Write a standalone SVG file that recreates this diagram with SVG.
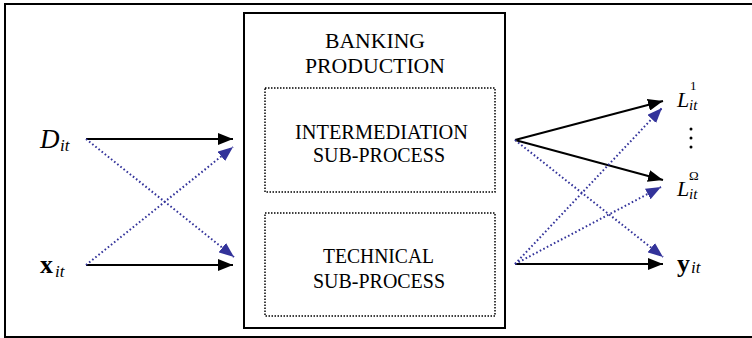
<svg xmlns="http://www.w3.org/2000/svg" width="752" height="338" viewBox="0 0 752 338">
<defs>
<style>
.t{font-family:"Liberation Serif","Times New Roman",serif;fill:#000}
.lbl{font-size:22px}
.solid{stroke:#000;stroke-width:2;fill:none}
.dot{stroke:#33339a;stroke-width:2;fill:none;stroke-dasharray:1.6 2.4}
.dbox{stroke:#000;stroke-width:1.5;fill:none;stroke-dasharray:1.5 1.5}
</style>
<marker id="ab" markerUnits="userSpaceOnUse" markerWidth="16" markerHeight="12" refX="15" refY="6" orient="auto">
<path d="M0,0 L15,6 L0,12 z" fill="#000"/>
</marker>
<marker id="au" markerUnits="userSpaceOnUse" markerWidth="16" markerHeight="12" refX="15" refY="6" orient="auto">
<path d="M0,0 L15,6 L0,12 z" fill="#33339a"/>
</marker>
</defs>
<rect width="752" height="338" fill="#fff"/>
<path d="M5,338 V4 H752 M4,337 H752" stroke="#000" stroke-width="2" fill="none"/>
<g id="banking">
<rect x="244" y="13" width="261" height="315" fill="none" stroke="#000" stroke-width="2"/>
<text class="t lbl" x="325" y="48" textLength="100" lengthAdjust="spacingAndGlyphs">BANKING</text>
<text class="t lbl" x="305" y="73" textLength="140" lengthAdjust="spacingAndGlyphs">PRODUCTION</text>
</g>
<g id="intermediation">
<rect class="dbox" x="265" y="88" width="230" height="104"/>
<text class="t lbl" x="295" y="139" textLength="173" lengthAdjust="spacingAndGlyphs">INTERMEDIATION</text>
<text class="t lbl" x="313" y="162" textLength="132" lengthAdjust="spacingAndGlyphs">SUB-PROCESS</text>
</g>
<g id="technical">
<rect class="dbox" x="265" y="213" width="230" height="103"/>
<text class="t lbl" x="323" y="263" textLength="111" lengthAdjust="spacingAndGlyphs">TECHNICAL</text>
<text class="t lbl" x="313" y="288" textLength="132" lengthAdjust="spacingAndGlyphs">SUB-PROCESS</text>
</g>
<g id="D">
<text class="t" x="40" y="148" font-size="27" font-style="italic">D</text>
<text class="t" x="60" y="151" font-size="17" font-style="italic">it</text>
</g>
<g id="x">
<text class="t" x="40" y="273" font-size="26" font-weight="bold">x</text>
<text class="t" x="55" y="277" font-size="17" font-style="italic">it</text>
</g>
<g id="L1">
<text class="t" x="677" y="107" font-size="22" font-style="italic">L</text>
<text class="t" x="690" y="90" font-size="13">1</text>
<text class="t" x="689" y="110" font-size="15" font-style="italic">it</text>
<circle cx="691" cy="129" r="1.5" fill="#000"/>
<circle cx="691" cy="138" r="1.5" fill="#000"/>
<circle cx="691" cy="147" r="1.5" fill="#000"/>
</g>
<g id="LOmega">
<text class="t" x="677" y="196" font-size="22" font-style="italic">L</text>
<text class="t" x="689" y="180" font-size="13">Ω</text>
<text class="t" x="689" y="199" font-size="15" font-style="italic">it</text>
</g>
<g id="y">
<text class="t" x="677" y="272" font-size="26" font-weight="bold">y</text>
<text class="t" x="691" y="273" font-size="17" font-style="italic">it</text>
</g>
<g id="connectors">
<line class="solid" x1="86" y1="139" x2="233" y2="139" marker-end="url(#ab)"/>
<line class="solid" x1="86" y1="265" x2="233" y2="265" marker-end="url(#ab)"/>
<line class="dot" x1="86" y1="139" x2="234" y2="257" marker-end="url(#au)"/>
<line class="dot" x1="86" y1="265" x2="233" y2="147" marker-end="url(#au)"/>
<line class="solid" x1="515" y1="140" x2="663" y2="101" marker-end="url(#ab)"/>
<line class="solid" x1="515" y1="140" x2="663" y2="180" marker-end="url(#ab)"/>
<line class="dot" x1="515" y1="140" x2="663" y2="257" marker-end="url(#au)"/>
<line class="solid" x1="515" y1="264" x2="663" y2="264" marker-end="url(#ab)"/>
<line class="dot" x1="515" y1="264" x2="662" y2="108" marker-end="url(#au)"/>
<line class="dot" x1="515" y1="264" x2="661" y2="187" marker-end="url(#au)"/>
</g>
</svg>
